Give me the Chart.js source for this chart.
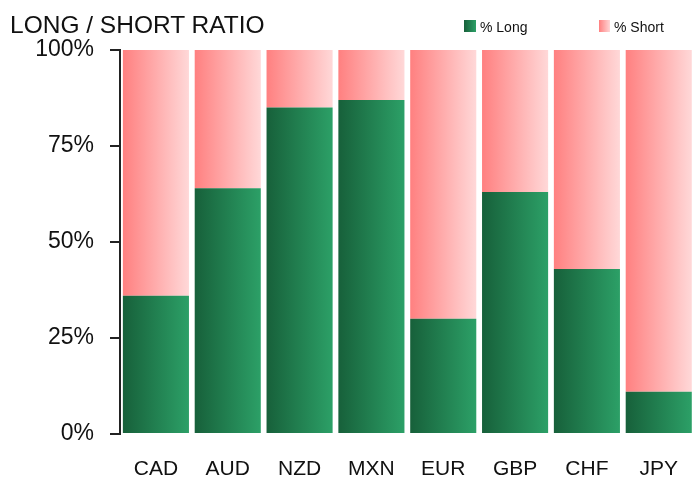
<!DOCTYPE html>
<html>
<head>
<meta charset="utf-8">
<script src="https://cdn.jsdelivr.net/npm/chart.js@4.4.1/dist/chart.umd.min.js"></script>
<style>
  html, body { margin: 0; padding: 0; background: #fff; overflow: hidden; width: 693px; height: 481px; }
  #wrap { position: relative; width: 701px; height: 481px; }
  canvas { position: absolute; left: 0; top: 0; }
  .t { position: absolute; font-family: "Liberation Sans", Arial, sans-serif; color: #111; white-space: nowrap; }
  #title { left: 10px; top: 13px; font-size: 24.5px; line-height: 24px; }
  .lg { font-size: 14px; line-height: 14px; top: 20px; }
  .box { position: absolute; top: 20px; height: 12px; }
</style>
</head>
<body>
<div id="wrap">
  <canvas id="c" width="701" height="481"></canvas>
  <div id="title" class="t">LONG / SHORT RATIO</div>
  <div class="box" style="left:464px;width:12px;background:linear-gradient(to right,#17603a,#2ca067);"></div>
  <div class="t lg" style="left:480px;">% Long</div>
  <div class="box" style="left:599px;width:11px;background:linear-gradient(to right,#ff8080,#ffd6d6);"></div>
  <div class="t lg" style="left:614px;">% Short</div>
</div>
<script>
const categories = ["CAD", "AUD", "NZD", "MXN", "EUR", "GBP", "CHF", "JPY"];
const longValues = [36, 64, 85, 87, 30, 63, 43, 11];
const shortValues = [64, 36, 15, 13, 70, 37, 57, 89];
const yTicks = [0, 25, 50, 75, 100];
const BAR_PCT = 0.92;

function grad(ctx, c1, c2) {
  const chart = ctx.chart;
  if (!chart.chartArea || !chart.scales.x) return c1;
  const xs = chart.scales.x;
  const cx = xs.getPixelForValue(ctx.dataIndex);
  const hw = (xs.width / categories.length) * BAR_PCT / 2;
  const g = chart.ctx.createLinearGradient(cx - hw, 0, cx + hw, 0);
  g.addColorStop(0, c1);
  g.addColorStop(1, c2);
  return g;
}

new Chart(document.getElementById('c'), {
  type: 'bar',
  data: {
    labels: categories,
    datasets: [
      { label: '% Long', data: longValues,
        backgroundColor: ctx => grad(ctx, '#17603a', '#2ca067') },
      { label: '% Short', data: shortValues,
        backgroundColor: ctx => grad(ctx, '#ff8080', '#ffd8d8') }
    ]
  },
  options: {
    responsive: false,
    animation: false,
    layout: { padding: { top: 50, right: 0, bottom: 0, left: 0 } },
    datasets: { bar: { categoryPercentage: 1, barPercentage: BAR_PCT, borderWidth: 0 } },
    plugins: { legend: { display: false }, tooltip: { enabled: false }, title: { display: false } },
    scales: {
      x: {
        stacked: true,
        afterFit: s => { s.height = 47; },
        grid: { display: false, drawTicks: false },
        border: { display: false },
        ticks: { color: '#111', padding: 23, font: { family: 'Liberation Sans', size: 21 } }
      },
      y: {
        stacked: true,
        min: 0, max: 100,
        afterFit: s => { s.width = 120; },
        afterBuildTicks: s => { s.ticks = yTicks.map(v => ({ value: v })); },
        grid: { drawOnChartArea: false, drawTicks: true, tickLength: 10, color: '#222', lineWidth: 2 },
        border: { display: true, color: '#222', width: 2 },
        ticks: { color: '#111', padding: 16, font: { family: 'Liberation Sans', size: 23 },
                 callback: v => v + '%' }
      }
    }
  }
});
</script>
</body>
</html>
